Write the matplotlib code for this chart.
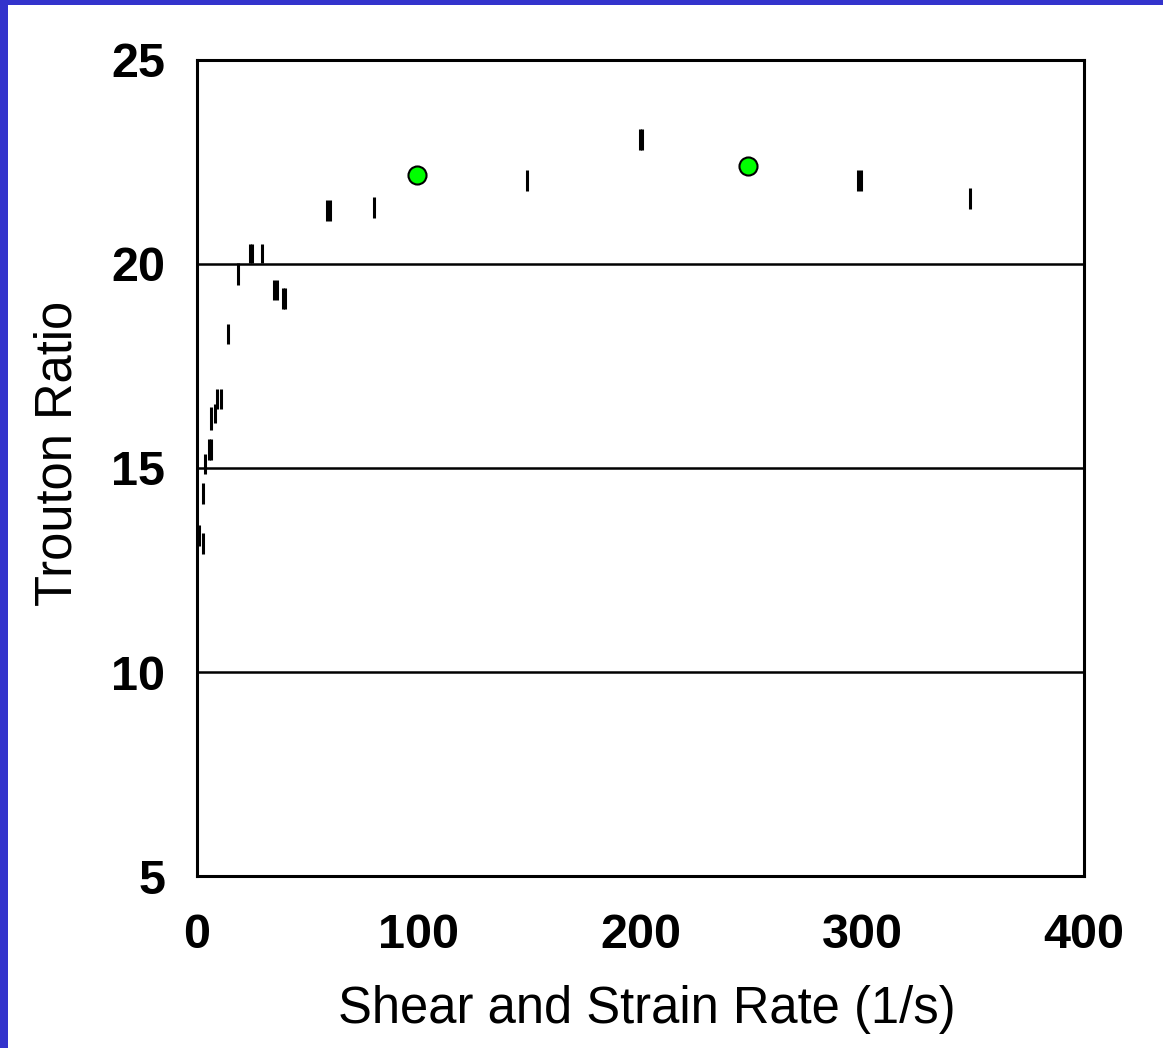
import matplotlib.pyplot as plt
from matplotlib.patches import Rectangle

# Measured Trouton ratio ranges (vertical bars).
rate_bars = [1.1, 2.5, 2.5, 3.8, 5.2, 6.5, 6.5, 7.9, 9.2, 10.6, 14.2, 18.3,
             23.7, 24.8, 29.1, 34.5, 35.9, 38.6, 39.7, 58.4, 59.8, 79.6,
             149.0, 199.6, 200.9, 297.9, 299.3, 348.4]
ratio_low = [13.1, 12.9, 14.12, 14.85, 15.2, 15.2, 15.93, 16.1, 16.45, 16.45,
             18.04, 19.49, 20.02, 20.02, 20.02, 19.12, 19.12, 18.9, 18.9,
             21.05, 21.05, 21.13, 21.79, 22.8, 22.8, 21.79, 21.79, 21.35]
ratio_high = [13.6, 13.4, 14.63, 15.34, 15.7, 15.7, 16.5, 16.57, 16.94, 16.94,
              18.53, 20.02, 20.49, 20.49, 20.49, 19.6, 19.6, 19.41, 19.41,
              21.57, 21.57, 21.64, 22.3, 23.3, 23.3, 22.3, 22.3, 21.86]

# Single green points.
rate_points = [99.0, 248.7]
ratio_points = [22.19, 22.40]

y_ticks = [5, 10, 15, 20, 25]
x_ticks = [0, 100, 200, 300, 400]


def plot_trouton():
    plt.rcParams["font.family"] = ["Liberation Sans", "DejaVu Sans"]

    fig = plt.figure(figsize=(11.63, 10.48), dpi=100)
    fig.patch.set_facecolor("white")

    # Blue slide border (left and top).
    fig.patches.append(Rectangle((0, 0), 8 / 1163, 1, transform=fig.transFigure,
                                 facecolor="#3333cc", edgecolor="none", zorder=0))
    fig.patches.append(Rectangle((0, 1 - 5 / 1048), 1, 5 / 1048, transform=fig.transFigure,
                                 facecolor="#3333cc", edgecolor="none", zorder=0))

    ax = fig.add_axes([197 / 1163, 172 / 1048, 887 / 1163, 816 / 1048])

    ax.vlines(rate_bars, ratio_low, ratio_high, colors="black", linewidth=2.2,
              capstyle="butt", zorder=3)
    ax.plot(rate_points, ratio_points, linestyle="none", marker="o", markersize=13,
            markerfacecolor="#00ff00", markeredgecolor="black", markeredgewidth=1.5,
            zorder=4)

    ax.set_xlim(0, 400)
    ax.set_ylim(5, 25)
    ax.set_xticks(x_ticks)
    ax.set_yticks(y_ticks)
    ax.tick_params(length=0, labelsize=35)
    ax.tick_params(axis="y", pad=23)
    ax.tick_params(axis="x", pad=27)
    for lbl in ax.get_xticklabels() + ax.get_yticklabels():
        lbl.set_fontweight("bold")

    ax.grid(axis="y", color="black", linewidth=1.8)
    ax.set_axisbelow(True)
    for spine in ax.spines.values():
        spine.set_linewidth(2.2)

    ax.set_xlabel("Shear and Strain Rate (1/s)", fontsize=36.5, va="center")
    ax.set_ylabel("Trouton Ratio", fontsize=36.5, va="center")
    ax.xaxis.set_label_coords(0.507, -0.164)
    ax.yaxis.set_label_coords(-0.157, 0.518)

    fig.savefig("out.png", dpi=100)
    plt.close(fig)


if __name__ == "__main__":
    plot_trouton()
